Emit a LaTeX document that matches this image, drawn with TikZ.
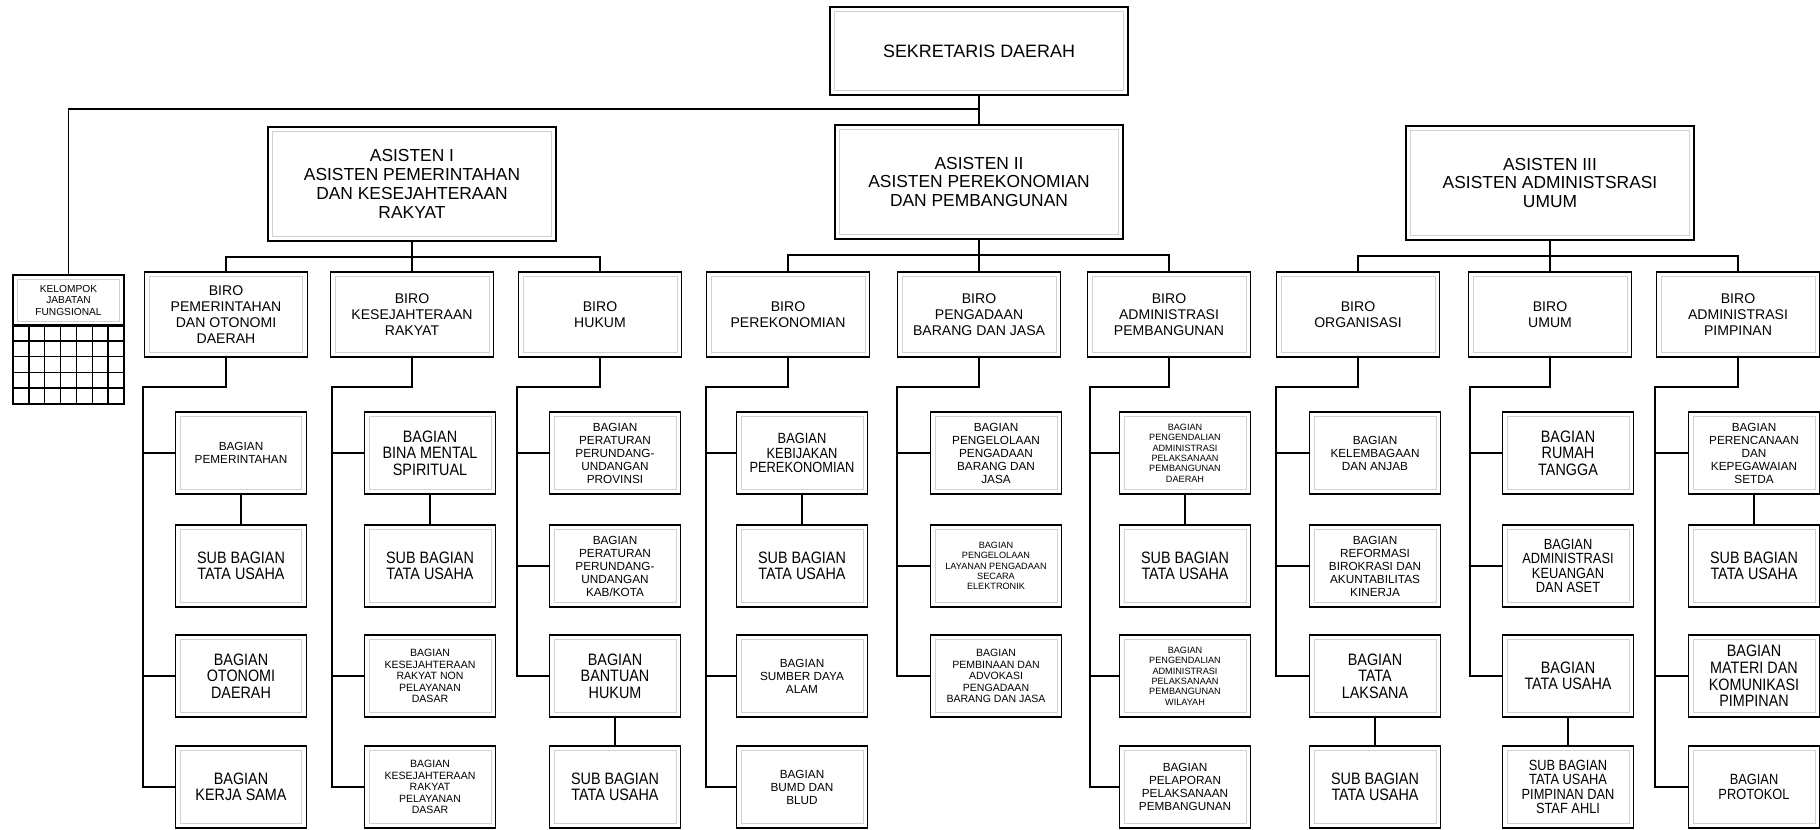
\documentclass[tikz,border=0pt]{standalone}
\usepackage{fontspec}
\setmainfont{Liberation Sans}
\newfontfamily\narrowsans[FakeStretch=0.87]{Liberation Sans}

\begin{document}
\begin{tikzpicture}[x=0.2mm, y=-0.2mm]

    \useasboundingbox (0,0) rectangle (1820,830);

    \tikzstyle{orgbox} = [draw, rectangle, line width=1.1pt, align=center, inner sep=1pt,
        path picture={\draw[black!18, line width=0.5pt]
            ([shift={(2.6pt,-2.6pt)}]path picture bounding box.north west) rectangle
            ([shift={(-2.6pt,2.6pt)}]path picture bounding box.south east);}];
    \tikzstyle{topnode} = [orgbox, minimum width=5.96cm, minimum height=1.76cm, font=\fontsize{10.2}{12}\selectfont];
    \tikzstyle{asnode} = [orgbox, minimum width=5.76cm, minimum height=2.28cm, font=\fontsize{9.9}{10.8}\selectfont];
    \tikzstyle{kelnode} = [orgbox, minimum width=2.22cm, minimum height=1.02cm, font=\fontsize{5.8}{6.4}\selectfont];
    \tikzstyle{bironode} = [orgbox, minimum width=3.26cm, minimum height=1.70cm, font=\fontsize{8}{9.2}\selectfont];
    \tikzstyle{bagnode} = [orgbox, minimum width=2.62cm, minimum height=1.64cm, font=\narrowsans\fontsize{9.4}{9.4}\selectfont];
    \tikzstyle{bagmid} = [bagnode, font=\narrowsans\fontsize{8.4}{8.3}\selectfont];
    \tikzstyle{bagsmall} = [bagnode, font=\fontsize{6.7}{7.4}\selectfont];
    \tikzstyle{bagmini} = [bagnode, font=\fontsize{6}{6.6}\selectfont];
    \tikzstyle{bagtiny} = [bagnode, font=\fontsize{5.2}{5.9}\selectfont];
    \tikzstyle{conn} = [line width=1pt];
    \tikzstyle{gridline} = [line width=0.8pt];

    % Top
    \node[topnode] (SEKDA) at (979,51) {SEKRETARIS DAERAH};
    \node[asnode] (AS1) at (412,184) {ASISTEN I\\ASISTEN PEMERINTAHAN\\DAN KESEJAHTERAAN\\RAKYAT};
    \node[asnode] (AS2) at (979,182) {ASISTEN II\\ASISTEN PEREKONOMIAN\\DAN PEMBANGUNAN};
    \node[asnode] (AS3) at (1550,183) {ASISTEN III\\ASISTEN ADMINISTSRASI\\UMUM};
    \node[kelnode, anchor=north] (KJF) at (68.5,274) {KELOMPOK\\JABATAN\\FUNGSIONAL};

    \coordinate (J0) at (979,109);
    \draw [conn] (SEKDA.south) -- (AS2.north);
    \draw [conn] (J0) -| (KJF.north);

    \draw [conn] (13,325) rectangle (124,404);
    \foreach \i in {1,...,6} \draw [gridline] (13+15.857*\i,325) -- (13+15.857*\i,404);
    \foreach \j in {1,...,4} \draw [gridline] (13,325+15.8*\j) -- (124,325+15.8*\j);
    % Top

    % Asisten I
    \node[bironode] (B1) at (226,314.5) {BIRO\\PEMERINTAHAN\\DAN OTONOMI\\DAERAH};
    \node[bironode] (B2) at (412,314.5) {BIRO\\KESEJAHTERAAN\\RAKYAT};
    \node[bironode] (B3) at (600,314.5) {BIRO\\HUKUM};

    \draw [conn] (AS1.south) -- ++(0,15) coordinate (J1);
    \draw [conn] (J1) -| (B1.north);
    \draw [conn] (J1) -| (B2.north);
    \draw [conn] (J1) -| (B3.north);

    \node[bagsmall] (B11) at (241,453) {BAGIAN\\PEMERINTAHAN};
    \node[bagnode] (B12) at (241,566) {SUB BAGIAN\\TATA USAHA};
    \node[bagnode] (B13) at (241,676) {BAGIAN\\OTONOMI\\DAERAH};
    \node[bagnode] (B14) at (241,787) {BAGIAN\\KERJA SAMA};
    \coordinate (L1) at (143,387);
    \draw [conn] (B1.south) |- (L1) |- (B14.west);
    \draw [conn] (L1 |- B11.west) -- (B11.west);
    \draw [conn] (L1 |- B13.west) -- (B13.west);
    \draw [conn] (B11) -- (B12);

    \node[bagnode] (B21) at (430,453) {BAGIAN\\BINA MENTAL\\SPIRITUAL};
    \node[bagnode] (B22) at (430,566) {SUB BAGIAN\\TATA USAHA};
    \node[bagmini] (B23) at (430,676) {BAGIAN\\KESEJAHTERAAN\\RAKYAT NON\\PELAYANAN\\DASAR};
    \node[bagmini] (B24) at (430,787) {BAGIAN\\KESEJAHTERAAN\\RAKYAT\\PELAYANAN\\DASAR};
    \coordinate (L2) at (332,387);
    \draw [conn] (B2.south) |- (L2) |- (B24.west);
    \draw [conn] (L2 |- B21.west) -- (B21.west);
    \draw [conn] (L2 |- B23.west) -- (B23.west);
    \draw [conn] (B21) -- (B22);

    \node[bagsmall] (B31) at (615,453) {BAGIAN\\PERATURAN\\PERUNDANG-\\UNDANGAN\\PROVINSI};
    \node[bagsmall] (B32) at (615,566) {BAGIAN\\PERATURAN\\PERUNDANG-\\UNDANGAN\\KAB/KOTA};
    \node[bagnode] (B33) at (615,676) {BAGIAN\\BANTUAN\\HUKUM};
    \node[bagnode] (B34) at (615,787) {SUB BAGIAN\\TATA USAHA};
    \coordinate (L3) at (517,387);
    \draw [conn] (B3.south) |- (L3) |- (B33.west);
    \draw [conn] (L3 |- B31.west) -- (B31.west);
    \draw [conn] (L3 |- B32.west) -- (B32.west);
    \draw [conn] (B33) -- (B34);
    % Asisten I

    % Asisten II
    \node[bironode] (B4) at (788,314.5) {BIRO\\PEREKONOMIAN};
    \node[bironode] (B5) at (979,314.5) {BIRO\\PENGADAAN\\BARANG DAN JASA};
    \node[bironode] (B6) at (1169,314.5) {BIRO\\ADMINISTRASI\\PEMBANGUNAN};

    \draw [conn] (AS2.south) -- ++(0,15) coordinate (J2);
    \draw [conn] (J2) -| (B4.north);
    \draw [conn] (J2) -| (B5.north);
    \draw [conn] (J2) -| (B6.north);

    \node[bagmid] (B41) at (802,453) {BAGIAN\\KEBIJAKAN\\PEREKONOMIAN};
    \node[bagnode] (B42) at (802,566) {SUB BAGIAN\\TATA USAHA};
    \node[bagsmall] (B43) at (802,676) {BAGIAN\\SUMBER DAYA\\ALAM};
    \node[bagsmall] (B44) at (802,787) {BAGIAN\\BUMD DAN\\BLUD};
    \coordinate (L4) at (706,387);
    \draw [conn] (B4.south) |- (L4) |- (B44.west);
    \draw [conn] (L4 |- B41.west) -- (B41.west);
    \draw [conn] (L4 |- B43.west) -- (B43.west);
    \draw [conn] (B41) -- (B42);

    \node[bagsmall] (B51) at (996,453) {BAGIAN\\PENGELOLAAN\\PENGADAAN\\BARANG DAN\\JASA};
    \node[bagtiny] (B52) at (996,566) {BAGIAN\\PENGELOLAAN\\LAYANAN PENGADAAN\\SECARA\\ELEKTRONIK};
    \node[bagmini] (B53) at (996,676) {BAGIAN\\PEMBINAAN DAN\\ADVOKASI\\PENGADAAN\\BARANG DAN JASA};
    \coordinate (L5) at (897,387);
    \draw [conn] (B5.south) |- (L5) |- (B53.west);
    \draw [conn] (L5 |- B51.west) -- (B51.west);
    \draw [conn] (L5 |- B52.west) -- (B52.west);

    \node[bagtiny] (B61) at (1185,453) {BAGIAN\\PENGENDALIAN\\ADMINISTRASI\\PELAKSANAAN\\PEMBANGUNAN\\DAERAH};
    \node[bagnode] (B62) at (1185,566) {SUB BAGIAN\\TATA USAHA};
    \node[bagtiny] (B63) at (1185,676) {BAGIAN\\PENGENDALIAN\\ADMINISTRASI\\PELAKSANAAN\\PEMBANGUNAN\\WILAYAH};
    \node[bagsmall] (B64) at (1185,787) {BAGIAN\\PELAPORAN\\PELAKSANAAN\\PEMBANGUNAN};
    \coordinate (L6) at (1090,387);
    \draw [conn] (B6.south) |- (L6) |- (B64.west);
    \draw [conn] (L6 |- B61.west) -- (B61.west);
    \draw [conn] (L6 |- B63.west) -- (B63.west);
    \draw [conn] (B61) -- (B62);
    % Asisten II

    % Asisten III
    \node[bironode] (B7) at (1358,314.5) {BIRO\\ORGANISASI};
    \node[bironode] (B8) at (1550,314.5) {BIRO\\UMUM};
    \node[bironode] (B9) at (1738,314.5) {BIRO\\ADMINISTRASI\\PIMPINAN};

    \draw [conn] (AS3.south) -- ++(0,15) coordinate (J3);
    \draw [conn] (J3) -| (B7.north);
    \draw [conn] (J3) -| (B8.north);
    \draw [conn] (J3) -| (B9.north);

    \node[bagsmall] (B71) at (1375,453) {BAGIAN\\KELEMBAGAAN\\DAN ANJAB};
    \node[bagsmall] (B72) at (1375,566) {BAGIAN\\REFORMASI\\BIROKRASI DAN\\AKUNTABILITAS\\KINERJA};
    \node[bagnode] (B73) at (1375,676) {BAGIAN\\TATA\\LAKSANA};
    \node[bagnode] (B74) at (1375,787) {SUB BAGIAN\\TATA USAHA};
    \coordinate (L7) at (1276,387);
    \draw [conn] (B7.south) |- (L7) |- (B73.west);
    \draw [conn] (L7 |- B71.west) -- (B71.west);
    \draw [conn] (L7 |- B72.west) -- (B72.west);
    \draw [conn] (B73) -- (B74);

    \node[bagnode] (B81) at (1568,453) {BAGIAN\\RUMAH\\TANGGA};
    \node[bagmid] (B82) at (1568,566) {BAGIAN\\ADMINISTRASI\\KEUANGAN\\DAN ASET};
    \node[bagnode] (B83) at (1568,676) {BAGIAN\\TATA USAHA};
    \node[bagmid] (B84) at (1568,787) {SUB BAGIAN\\TATA USAHA\\PIMPINAN DAN\\STAF AHLI};
    \coordinate (L8) at (1470,387);
    \draw [conn] (B8.south) |- (L8) |- (B83.west);
    \draw [conn] (L8 |- B81.west) -- (B81.west);
    \draw [conn] (L8 |- B82.west) -- (B82.west);
    \draw [conn] (B83) -- (B84);

    \node[bagsmall] (B91) at (1754,453) {BAGIAN\\PERENCANAAN\\DAN\\KEPEGAWAIAN\\SETDA};
    \node[bagnode] (B92) at (1754,566) {SUB BAGIAN\\TATA USAHA};
    \node[bagnode] (B93) at (1754,676) {BAGIAN\\MATERI DAN\\KOMUNIKASI\\PIMPINAN};
    \node[bagmid] (B94) at (1754,787) {BAGIAN\\PROTOKOL};
    \coordinate (L9) at (1655,387);
    \draw [conn] (B9.south) |- (L9) |- (B94.west);
    \draw [conn] (L9 |- B91.west) -- (B91.west);
    \draw [conn] (L9 |- B93.west) -- (B93.west);
    \draw [conn] (B91) -- (B92);
    % Asisten III

\end{tikzpicture}
\end{document}
